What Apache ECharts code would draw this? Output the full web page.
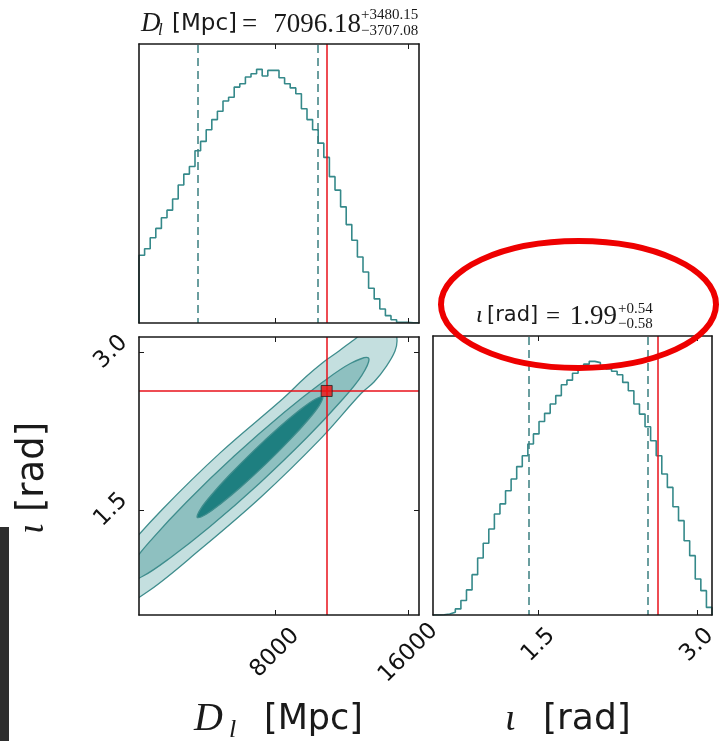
<!DOCTYPE html>
<html><head><meta charset="utf-8">
<script src="https://cdn.jsdelivr.net/npm/echarts@6/dist/echarts.min.js"></script>
<style>html,body{margin:0;padding:0;background:#fff}#c{width:721px;height:741px}</style>
</head><body><div id="c"></div>
<script>
// ---------- data ----------
const dlRange = [-160, 16640];
const iotaRange = [0.5, 3.143];
const dlTicks = [8000, 16000];
const dlTickLabels = ['8000', '16000'];
const iotaTicks = [1.5, 3.0];
const iotaTickLabels = ['1.5', '3.0'];
const histMax = 1100;

const dlCounts = [267,293,336,373,415,445,489,544,587,617,679,716,762,802,835,875,890,930,943,970,
                  983,1000,974,996,996,967,943,927,904,845,802,762,709,653,577,524,458,388,326,260,
                  201,137,95,55,29,13,3,3,1,1];
const iotaCounts = [0,1,4,11,24,57,99,159,225,283,339,398,438,490,536,585,628,674,714,763,
                    795,832,865,908,926,953,970,989,1000,995,983,970,961,947,917,884,832,792,742,687,
                    628,556,503,427,372,293,234,142,96,30];

const dlQuantiles = [3389.10, 10576.33];
const iotaQuantiles = [1.41, 2.53];
const dlTruth = 11100;
const iotaTruth = 2.63;

const contourOuter = [[-3106,0.517],[-2734,0.740],[-1258,1.063],[1220,1.501],[4742,2.046],[8468,2.556],
  [9842,2.762],[10838,2.896],[11840,3.010],[12638,3.105],[13460,3.200],[14420,3.267],[15140,3.229],
  [15320,3.114],[15200,3.010],[14690,2.867],[13940,2.715],[13178,2.608],[10700,2.170],[7178,1.625],
  [3452,1.115],[482,0.735],[-1666,0.545]];
const contourMid = [[-1000,0.818],[-598,0.981],[656,1.229],[2696,1.575],[5552,2.011],[8540,2.425],
  [10886,2.717],[12548,2.893],[13610,2.943],[13208,2.779],[11954,2.532],[9914,2.187],[7058,1.751],
  [4070,1.337],[1724,1.045],[62,0.868]];
const contourInner = [[3338,1.427],[3548,1.511],[4196,1.643],[5252,1.828],[6728,2.063],[8264,2.287],
  [9464,2.446],[10328,2.544],[10862,2.575],[10652,2.491],[10004,2.359],[8948,2.174],[7472,1.939],
  [5936,1.715],[4730,1.556],[3872,1.458]];

// ---------- styling ----------
const TEAL = '#35898a';
const DASH = '#3a7f80';
const RED = '#e8101a';
const FRAME = '#1a1a1a';

function histLine(counts, range) {
  const w = (range[1] - range[0]) / counts.length;
  const d = [[range[0], 0]];
  counts.forEach((c, i) => d.push([range[0] + i * w, c]));
  d.push([range[1], counts[counts.length - 1]]);
  d.push([range[1], 0]);
  return d;
}

function frameAxis(base) {
  return Object.assign({
    type: 'value', z: 10,
    axisLine: { show: true, onZero: false, lineStyle: { color: FRAME, width: 1.6 } },
    axisTick: { show: false },
    axisLabel: { show: false },
    splitLine: { show: false }
  }, base);
}
function tickAxis(base, ticks) {
  const a = frameAxis(base);
  a.axisTick = { show: true, inside: true, length: 5, customValues: ticks, lineStyle: { color: FRAME, width: 1 } };
  return a;
}
function labelled(a, ticks, labels, margin) {
  a.axisLabel = { show: true, customValues: ticks, rotate: 45, align: 'center', verticalAlign: 'middle',
    margin: margin, color: '#111', fontFamily: 'DejaVu Sans', fontSize: 23,
    formatter: v => labels[ticks.indexOf(v)] };
  return a;
}

const grids = [
  { left: 139, top: 44, width: 280, height: 279 },
  { left: 139, top: 337, width: 280, height: 278 },
  { left: 433, top: 336, width: 279, height: 279 }
];

const xAxes = [
  tickAxis({ gridIndex: 0, position: 'bottom', min: dlRange[0], max: dlRange[1] }, dlTicks),
  tickAxis({ gridIndex: 0, position: 'top', min: dlRange[0], max: dlRange[1] }, dlTicks),
  labelled(tickAxis({ gridIndex: 1, position: 'bottom', min: dlRange[0], max: dlRange[1] }, dlTicks), dlTicks, dlTickLabels, 38),
  tickAxis({ gridIndex: 1, position: 'top', min: dlRange[0], max: dlRange[1] }, dlTicks),
  labelled(tickAxis({ gridIndex: 2, position: 'bottom', min: iotaRange[0], max: iotaRange[1] }, iotaTicks), iotaTicks, iotaTickLabels, 30),
  tickAxis({ gridIndex: 2, position: 'top', min: iotaRange[0], max: iotaRange[1] }, iotaTicks)
];

const yAxes = [
  frameAxis({ gridIndex: 0, position: 'left', min: 0, max: histMax }),
  frameAxis({ gridIndex: 0, position: 'right', min: 0, max: histMax }),
  labelled(tickAxis({ gridIndex: 1, position: 'left', min: iotaRange[0], max: iotaRange[1] }, iotaTicks), iotaTicks, iotaTickLabels, 28),
  tickAxis({ gridIndex: 1, position: 'right', min: iotaRange[0], max: iotaRange[1] }, iotaTicks),
  frameAxis({ gridIndex: 2, position: 'left', min: 0, max: histMax }),
  frameAxis({ gridIndex: 2, position: 'right', min: 0, max: histMax })
];

function vLines(quant, truth) {
  const d = quant.map(q => ({ xAxis: q, lineStyle: { type: [8, 5], dashOffset: 3, color: DASH, width: 1.5 } }));
  d.push({ xAxis: truth, lineStyle: { type: 'solid', color: RED, width: 1.5 } });
  return { symbol: ['none', 'none'], silent: true, animation: false, label: { show: false }, data: d };
}

function polyRender(pts, fill) {
  return function (params, api) {
    if (params.dataIndex !== 0) return null;
    const cs = params.coordSys;
    return {
      type: 'group',
      clipPath: { type: 'rect', shape: { x: cs.x, y: cs.y, width: cs.width, height: cs.height } },
      children: [{
        type: 'polygon',
        shape: { points: pts.map(p => api.coord(p)), smooth: 0.35 },
        style: { fill: fill, stroke: '#3f8d8d', lineWidth: 1.3 }
      }]
    };
  };
}
function contourSeries(pts, fill, z) {
  return { type: 'custom', xAxisIndex: 2, yAxisIndex: 2, z: z, silent: true, animation: false,
    data: pts, encode: { x: 0, y: 1 }, renderItem: polyRender(pts, fill) };
}

const series = [
  { type: 'line', xAxisIndex: 0, yAxisIndex: 0, step: 'end', showSymbol: false, symbol: 'none', animation: false,
    data: histLine(dlCounts, dlRange), lineStyle: { color: TEAL, width: 1.6 }, markLine: vLines(dlQuantiles, dlTruth) },
  contourSeries(contourOuter, '#c4dfdf', 2),
  contourSeries(contourMid, '#8ec0c0', 3),
  contourSeries(contourInner, '#1e7f80', 4),
  { type: 'line', xAxisIndex: 2, yAxisIndex: 2, data: [], z: 5, animation: false,
    markLine: { symbol: ['none', 'none'], silent: true, animation: false, label: { show: false },
      lineStyle: { type: 'solid', color: RED, width: 1.5 },
      data: [{ xAxis: dlTruth }, { yAxis: iotaTruth }] } },
  { type: 'scatter', xAxisIndex: 2, yAxisIndex: 2, z: 6, animation: false, symbol: 'rect', symbolSize: 11,
    data: [[dlTruth, iotaTruth]], itemStyle: { color: '#ee1111', borderColor: '#222', borderWidth: 1 } },
  { type: 'line', xAxisIndex: 4, yAxisIndex: 4, step: 'end', showSymbol: false, symbol: 'none', animation: false,
    data: histLine(iotaCounts, iotaRange), lineStyle: { color: TEAL, width: 1.6 }, markLine: vLines(iotaQuantiles, iotaTruth) }
];

// ---------- texts ----------
const SER = "'Liberation Serif'";
function T(x, y, text, font, extra) {
  return Object.assign({ type: 'text', x: x, y: y, z: 50, silent: true,
    style: { text: text, font: font, fill: '#1a1a1a', align: 'left', verticalAlign: 'middle' } }, extra || {});
}
function TA(x, y, text, font, align) {
  const t = T(x, y, text, font); t.style.align = align; return t;
}

const graphic = [
  { type: 'rect', z: 1, silent: true, shape: { x: 0, y: 527, width: 9, height: 214 }, style: { fill: '#2e2e2e' } },
  // title of D_l panel
  T(141, 24, 'D', 'italic 27px ' + SER),
  T(158, 31, 'l', 'italic 17px ' + SER),
  T(172, 24, '[Mpc]', "23px 'DejaVu Sans'"),
  T(242, 25, '=', '27px ' + SER),
  TA(361, 25, '7096.18', '27px ' + SER, 'right'),
  T(361, 15, '+3480.15', '15px ' + SER),
  T(361, 31, '\u22123707.08', '15px ' + SER),
  // title of iota panel
  T(476, 316, '\u03b9', 'italic 24px ' + SER),
  T(487, 316, '[rad]', "21px 'DejaVu Sans'"),
  T(546, 317, '=', '25px ' + SER),
  TA(617, 317, '1.99', '27px ' + SER, 'right'),
  T(618, 309, '+0.54', '15px ' + SER),
  T(618, 324, '\u22120.58', '15px ' + SER),
  // axis titles
  { type: 'text', x: 33, y: 478, z: 50, rotation: Math.PI / 2, silent: true,
    style: { text: '{g|\u03b9} {s|[rad]}', font: "36px 'DejaVu Sans'", fill: '#1a1a1a', align: 'center', verticalAlign: 'middle',
      rich: { g: { font: 'italic 38px ' + SER, fill: '#1a1a1a' }, s: { font: "37px 'DejaVu Sans'", fill: '#1a1a1a' } } } },
  T(194, 719, 'D', 'italic 40px ' + SER),
  T(229, 730, 'l', 'italic 26px ' + SER),
  T(264, 720, '[Mpc]', "35px 'DejaVu Sans'"),
  T(505, 720, '\u03b9', 'italic 38px ' + SER),
  T(543, 720, '[rad]', "36px 'DejaVu Sans'"),
  // red annotation ellipse
  { type: 'ellipse', z: 100, silent: true, shape: { cx: 578.5, cy: 304.5, rx: 137.5, ry: 63.5 },
    style: { fill: 'none', stroke: '#ee0000', lineWidth: 6 } }
];

const chart = echarts.init(document.getElementById('c'), null, { renderer: 'canvas' });
chart.setOption({
  animation: false,
  backgroundColor: '#fff',
  grid: grids,
  xAxis: xAxes,
  yAxis: yAxes,
  series: series,
  graphic: graphic
});
</script>
</body></html>
